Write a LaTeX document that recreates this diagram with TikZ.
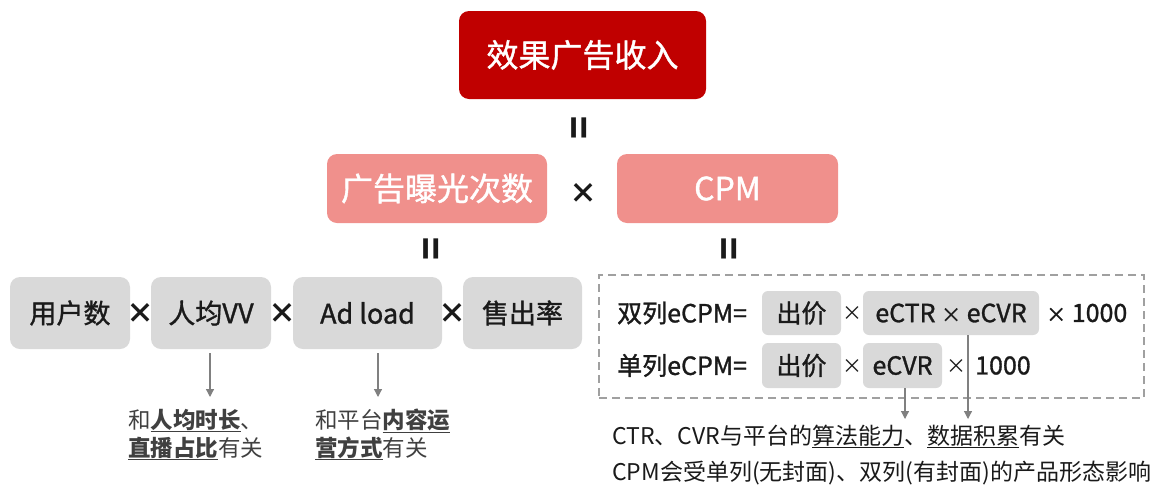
\documentclass[tikz,border=0pt]{standalone}
\usepackage{fontspec}
\setmainfont{Noto Sans CJK SC}
\newfontfamily\medfont{Noto Sans CJK SC}[FakeBold=1.2]
\usetikzlibrary{arrows.meta}
\definecolor{topred}{HTML}{C00000}
\definecolor{midred}{HTML}{F0908C}
\definecolor{boxgray}{HTML}{D9D9D9}
\definecolor{arrowgray}{HTML}{808080}
\definecolor{dashgray}{HTML}{A0A0A0}
\definecolor{txt}{HTML}{1A1A1A}
\definecolor{notetxt}{HTML}{404040}
\begin{document}
\begin{tikzpicture}[x=1pt,y=-1pt,
  topbox/.style={fill=topred, rounded corners=10pt, text=white, inner sep=0pt, font=\medfont\fontsize{32}{38}\selectfont},
  midbox/.style={fill=midred, rounded corners=10pt, text=white, inner sep=0pt, font=\medfont\fontsize{32}{38}\selectfont},
  graybox/.style={fill=boxgray, rounded corners=10pt, text=txt, inner sep=0pt, minimum height=72pt, font=\medfont\fontsize{27}{32}\selectfont},
  fbox/.style={fill=boxgray, rounded corners=6pt, text=txt, inner sep=0pt, minimum height=44pt, font=\medfont\fontsize{25}{30}\selectfont},
  ftext/.style={text=txt, inner sep=0pt, font=\medfont\fontsize{25}{30}\selectfont},
  ftimes/.style={text=txt, inner sep=0pt, font=\fontsize{20}{24}\selectfont},
  times/.style={text=txt, inner sep=0pt, font=\bfseries\fontsize{28}{32}\selectfont},
  eqsign/.style={text=txt, inner sep=0pt, rotate=90, font=\bfseries\fontsize{38}{40}\selectfont},
  note/.style={text=notetxt, inner sep=0pt, anchor=base west, font=\fontsize{22.5}{28}\selectfont},
  rnote/.style={text=txt, inner sep=0pt, anchor=base west, font=\fontsize{23}{28}\selectfont},
  pointer/.style={draw=arrowgray, line width=1.2pt, -{Triangle[length=8pt,width=8pt]}},
  dashframe/.style={draw=dashgray, line width=1.2pt, dash pattern=on 8pt off 5pt},
]
\useasboundingbox (0,0) rectangle (1156,488);
% top levels
\node[topbox, minimum width=247pt, minimum height=88pt] (rev) at (582.5,55) {效果广告收入};
\node[eqsign] (eq1) at (583,128) {=};
\node[midbox, minimum width=220pt, minimum height=69pt] (imp) at (437,188.5) {广告曝光次数};
\node[times] (x0) at (583,193) {×};
\node[midbox, minimum width=221pt, minimum height=69pt] (cpm) at (727.5,188.5) {CPM};
\node[eqsign] (eq2) at (435,249) {=};
\node[eqsign] (eq3) at (733,249) {=};
% row 3
\node[graybox, minimum width=120pt] (users) at (70,313) {用户数};
\node[times] (x1) at (140.5,313) {×};
\node[graybox, minimum width=120pt] (vv) at (211,313) {人均VV};
\node[times] (x2) at (282,313) {×};
\node[graybox, minimum width=149pt] (ad) at (367.5,313) {Ad load};
\node[times] (x3) at (452.5,313) {×};
\node[graybox, minimum width=119pt] (sell) at (522.5,313) {售出率};
% formula frame
\node[dashframe, minimum width=545pt, minimum height=123pt, inner sep=0pt] (frame) at (871.5,336.5) {};
\node[ftext, anchor=west] (l1) at (617,313) {双列eCPM=};
\node[fbox, minimum width=79pt] (bid1) at (801.5,313) {出价};
\node[ftimes] (m1) at (852,314) {×};
\node[fbox, minimum width=176pt] (ctrcvr) at (951,313) {eCTR {\fontsize{20}{24}\selectfont×} eCVR};
\node[ftext, anchor=west] (k1) at (1046,313) {{\fontsize{20}{24}\selectfont×} 1000};
\node[ftext, anchor=west] (l2) at (617,365.5) {单列eCPM=};
\node[fbox, minimum width=79pt, minimum height=45pt] (bid2) at (801.5,365.5) {出价};
\node[ftimes] (m2) at (852,366.5) {×};
\node[fbox, minimum width=79pt, minimum height=45pt] (cvr) at (902.5,365.5) {eCVR};
\node[ftimes] (m3) at (956,366.5) {×};
\node[ftext, anchor=west] (k2) at (975,365.5) {1000};
% arrows
\coordinate (a1) at (210,397);
\coordinate (a2) at (378,397);
\coordinate (a3) at (905,419);
\coordinate (a4) at (968,419);
\draw[pointer, shorten <=4pt] (vv.south -| a1) -- (a1);
\draw[pointer, shorten <=4pt] (ad.south -| a2) -- (a2);
\draw[pointer] (cvr.south -| a3) -- (a3);
\draw[pointer] (ctrcvr.south -| a4) -- (a4);
% notes
\node[note] (n1a) at (128,428) {和\underline{\textbf{人均时长}}、};
\node[note] (n1b) at (128,456) {\underline{\textbf{直播占比}}有关};
\node[note] (n2a) at (315,428) {和平台\underline{\textbf{内容运}}};
\node[note] (n2b) at (315,456) {\underline{\textbf{营方式}}有关};
\node[rnote] (n3) at (612,444) {CTR、CVR与平台的\underline{算法能力}、\underline{数据积累}有关};
\node[rnote] (n4) at (612,480) {CPM会受单列(无封面)、双列(有封面)的产品形态影响};
\end{tikzpicture}
\end{document}
